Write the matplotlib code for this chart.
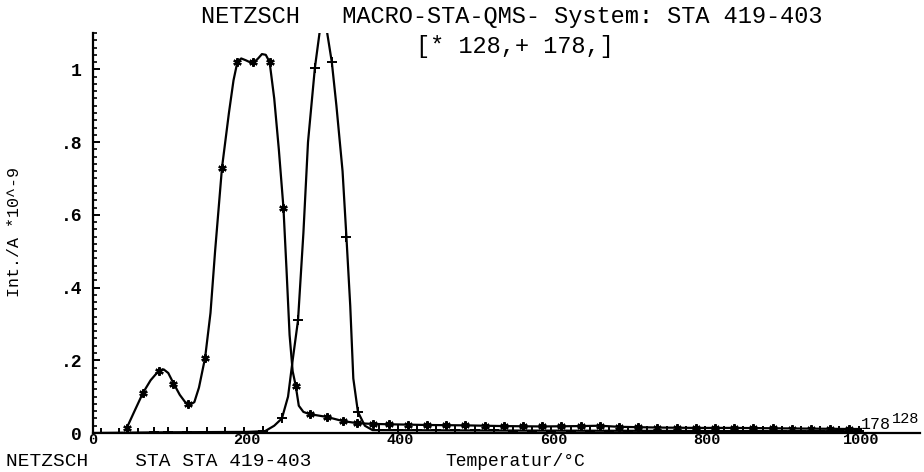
import matplotlib
matplotlib.use("Agg")
from matplotlib import pyplot as plt
from matplotlib.ticker import MultipleLocator, FixedLocator

# curva suavizada de la masa 128
curva128_x = [44, 54, 65, 75, 86, 92, 98, 104, 113, 120, 126, 132, 138, 146, 153, 159,
              168, 177, 183, 188, 193, 199, 204, 209, 215, 220, 225, 230, 236, 242, 248,
              252, 256, 260, 264, 268, 274, 282, 305, 325, 344, 364, 385, 435, 485, 535,
              585, 635, 660, 685, 735, 785, 835, 885, 935, 985, 1000]
curva128_y = [0.014, 0.06, 0.11, 0.145, 0.172, 0.175, 0.165, 0.14, 0.105, 0.085, 0.077,
              0.085, 0.125, 0.207, 0.33, 0.5, 0.73, 0.88, 0.97, 1.02, 1.03, 1.025, 1.02,
              1.018, 1.03, 1.042, 1.04, 1.02, 0.92, 0.78, 0.62, 0.45, 0.27, 0.17, 0.13,
              0.075, 0.058, 0.052, 0.044, 0.033, 0.027, 0.025, 0.024, 0.022, 0.021, 0.019,
              0.018, 0.019, 0.02, 0.017, 0.015, 0.014, 0.014, 0.013, 0.012, 0.011, 0.011]

# puntos medidos de la masa 128
puntos128_x = [44, 65, 86, 104, 124, 146, 168, 188, 209, 230, 248, 264, 282, 305, 325, 344,
               364, 385, 410, 435, 460, 485, 510, 535, 560, 585, 610, 635, 660, 685, 710,
               735, 760, 785, 810, 835, 860, 885, 910, 935, 960, 985]
puntos128_y = [0.014, 0.11, 0.17, 0.135, 0.08, 0.207, 0.73, 1.02, 1.02, 1.02, 0.62, 0.13,
               0.052, 0.044, 0.033, 0.027, 0.025, 0.024, 0.023, 0.022, 0.021, 0.021, 0.02,
               0.019, 0.018, 0.018, 0.018, 0.019, 0.02, 0.017, 0.016, 0.015, 0.015, 0.014,
               0.014, 0.014, 0.013, 0.013, 0.012, 0.012, 0.011, 0.011]

# curva suavizada de la masa 178
curva178_x = [0, 100, 200, 224, 236, 246, 254, 260, 267, 274, 280, 289, 295, 300, 305,
              311, 317, 325, 330, 335, 339, 345, 354, 364, 500, 700, 900, 1000]
curva178_y = [0.0, 0.002, 0.003, 0.005, 0.02, 0.04, 0.1, 0.2, 0.31, 0.55, 0.8, 1.005,
              1.1, 1.14, 1.1, 1.02, 0.9, 0.72, 0.54, 0.35, 0.15, 0.058, 0.02, 0.008,
              0.007, 0.006, 0.005, 0.005]

# puntos medidos de la masa 178
puntos178_x = [10, 34, 59, 79, 98, 123, 148, 172, 197, 221, 246, 267, 289, 311, 330, 345,
               372, 397, 422, 447, 472, 497, 522, 547, 572, 597, 622, 647, 672, 697, 722,
               747, 772, 797, 822, 847, 872, 897, 922, 947, 972, 997]
puntos178_y = [0.0, 0.0, 0.001, 0.002, 0.002, 0.002, 0.003, 0.003, 0.003, 0.005, 0.04,
               0.31, 1.005, 1.02, 0.54, 0.058, 0.008, 0.008, 0.007, 0.007, 0.007, 0.007,
               0.007, 0.006, 0.006, 0.006, 0.006, 0.006, 0.006, 0.006, 0.006, 0.006,
               0.005, 0.005, 0.005, 0.005, 0.005, 0.005, 0.005, 0.005, 0.005, 0.005]

ticks_x = [0, 200, 400, 600, 800, 1000]
etiquetas_x = ["0", "200", "400", "600", "800", "1000"]
ticks_y = [0, 0.2, 0.4, 0.6, 0.8, 1.0]
etiquetas_y = ["0", ".2", ".4", ".6", ".8", "1"]

fuente = "Liberation Mono"

fig = plt.figure(figsize=(9.24, 4.72), dpi=100)
ax = fig.add_axes([93 / 924, 1 - 433 / 472, 827 / 924, 400 / 472])

ax.plot(curva128_x, curva128_y, color="black", lw=1.6)
ax.plot(puntos128_x, puntos128_y, ls="none", marker=(6, 2, 0), ms=6, mew=1.6, color="black")
ax.plot(curva178_x, curva178_y, color="black", lw=1.6)
ax.plot(puntos178_x, puntos178_y, ls="none", marker="+", ms=6.5, mew=1.4, color="black")

ax.set_xlim(0, 1077)
ax.set_ylim(0, 1.10)

for lado in ["top", "right"]:
    ax.spines[lado].set_visible(False)
ax.spines["left"].set_linewidth(1.6)
ax.spines["bottom"].set_linewidth(1.6)

ax.xaxis.set_major_locator(FixedLocator(ticks_x))
ax.set_xticklabels(etiquetas_x, fontfamily=fuente, fontweight="bold", fontsize=11)
ax.tick_params(axis="x", length=0, pad=0)

ax.yaxis.set_major_locator(FixedLocator(ticks_y))
ax.yaxis.set_minor_locator(MultipleLocator(0.02))
ax.set_yticklabels(etiquetas_y, fontfamily=fuente, fontweight="bold", fontsize=13)
ax.tick_params(axis="y", which="major", direction="in", length=5, width=1.4, pad=8)
ax.tick_params(axis="y", which="minor", direction="in", length=3, width=1.2)

fig.text(512 / 924, 1 - 17 / 472, "NETZSCH   MACRO-STA-QMS- System: STA 419-403",
         ha="center", va="center", fontfamily=fuente, fontsize=17)
fig.text(515 / 924, 1 - 46 / 472, "[* 128,+ 178,]",
         ha="center", va="center", fontfamily=fuente, fontsize=17)
fig.text(6 / 924, 1 - 462 / 472, "NETZSCH    STA STA 419-403",
         ha="left", va="center", fontfamily=fuente, fontsize=14)
fig.text(515 / 924, 1 - 461 / 472, "Temperatur/°C",
         ha="center", va="center", fontfamily=fuente, fontsize=13)
fig.text(15 / 924, 1 - 232 / 472, "Int./A *10^-9", rotation=90,
         ha="center", va="center", fontfamily=fuente, fontsize=12)

# etiquetas de las masas al final de las curvas
ax.text(1000, 0.004, "178", fontfamily=fuente, fontsize=12, va="bottom")
ax.text(1040, 0.02, "128", fontfamily=fuente, fontsize=11, va="bottom")

fig.savefig("out.png", dpi=100)
